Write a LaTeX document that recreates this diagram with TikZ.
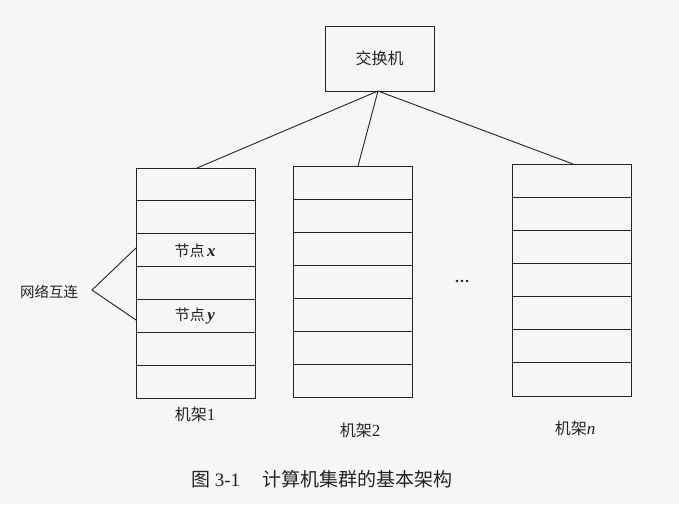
\documentclass[tikz,border=0pt]{standalone}
\usepackage{fontspec}
\setmainfont{Liberation Serif}
\newfontfamily\cjk{Noto Sans CJK SC}
\definecolor{bg}{RGB}{246,246,245}
\definecolor{ink}{RGB}{35,35,35}
\begin{document}
\begin{tikzpicture}[x=1pt,y=-1pt,
  every node/.style={text=ink},
  lbl/.style={font=\cjk\fontsize{15}{15}\selectfont, inner sep=0pt},
  wire/.style={draw=ink, line width=0.9pt},
  rackbox/.style={draw=ink, line width=1pt}]
\fill[bg] (0,0) rectangle (679,504);
\useasboundingbox (0,0) rectangle (679,504);
% switch
\node[rackbox, minimum width=109pt, minimum height=65pt, inner sep=0pt,
      font=\cjk\fontsize{16}{16}\selectfont] (sw) at (379.5,58.5) {交换机};
\coordinate (swb) at (378,91);
% racks
\foreach \name/\xl/\yt/\yb in {r1/136/168/398, r2/293/166/397, rn/512/164/396}{
  \draw[rackbox] (\xl,\yt) rectangle ({\xl+119},\yb);
  \foreach \i in {1,...,6}{
    \draw[wire] (\xl,{\yt+\i*(\yb-\yt)/7}) -- ({\xl+119},{\yt+\i*(\yb-\yt)/7});
  }
  \coordinate (\name) at ({\xl+59.5},\yt);
}
\coordinate (t1) at (197,168);
\coordinate (t2) at (358,166);
\coordinate (tn) at (573,164);
\draw[wire] (swb) -- (t1);
\draw[wire] (swb) -- (t2);
\draw[wire] (swb) -- (tn);
% node labels
\node[lbl] (nx) at (195,250.5) {节点\,{\rmfamily\bfseries\itshape\fontsize{17}{17}\selectfont x}};
\node[lbl] (ny) at (195,316.5) {节点\,{\rmfamily\bfseries\itshape\fontsize{17}{17}\selectfont y}};
% interconnect bracket
\node[lbl, font=\cjk\fontsize{14.5}{14.5}\selectfont] (net) at (49,292) {网络互连};
\coordinate (bx) at (136,248);
\coordinate (bm) at (92,290);
\coordinate (by) at (136,320);
\draw[wire] (bx) -- (bm) -- (by);
% ellipsis
\node[font=\rmfamily\bfseries\fontsize{15}{15}\selectfont, inner sep=0pt] (dots) at (462,281) {\ldots};
% rack labels
\node[lbl, font=\cjk\fontsize{16}{16}\selectfont] (l1) at (195,414) {机架{\rmfamily\fontsize{17}{17}\selectfont 1}};
\node[lbl, font=\cjk\fontsize{16}{16}\selectfont] (l2) at (360,430) {机架{\rmfamily\fontsize{17}{17}\selectfont 2}};
\node[lbl, font=\cjk\fontsize{16}{16}\selectfont] (ln) at (575,428) {机架{\rmfamily\itshape\fontsize{17}{17}\selectfont n}};
% caption
\node[inner sep=0pt, font=\fontsize{19}{19}\selectfont] (cap) at (322,479)
  {{\cjk 图}\ 3-1\hspace{1.2em}{\cjk 计算机集群的基本架构}};
\end{tikzpicture}
\end{document}
